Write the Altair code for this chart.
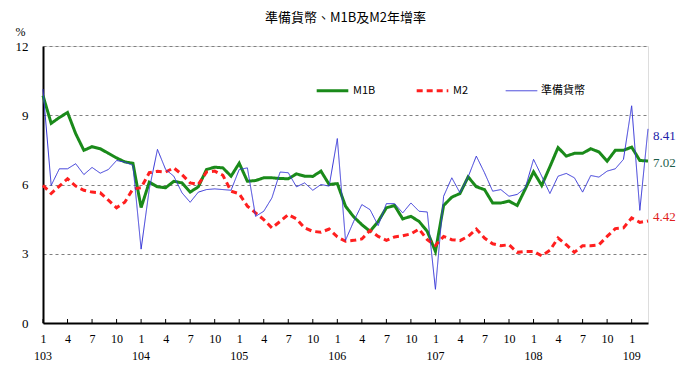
import altair as alt
import pandas as pd

# month index 0 = 103/1 ... 74 = 109/3
months = list(range(75))
series_names = ["M1B", "M2", "準備貨幣"]
m1b = [9.85, 8.65, 8.9, 9.12, 8.2, 7.48, 7.64, 7.55, 7.35, 7.15, 6.98, 6.92,
       5.0, 6.1, 5.9, 5.86, 6.14, 6.07, 5.67, 5.9, 6.65, 6.75, 6.72, 6.36,
       6.92, 6.14, 6.17, 6.29, 6.29, 6.26, 6.25, 6.46, 6.36, 6.35, 6.58, 6.0,
       6.04, 5.06, 4.6, 4.26, 3.97, 4.4, 4.99, 5.09, 4.51, 4.62, 4.4, 3.97,
       3.1, 5.09, 5.45, 5.61, 6.33, 5.9, 5.78, 5.2, 5.2, 5.28, 5.09, 5.81,
       6.55, 5.96, 6.77, 7.6, 7.23, 7.35, 7.35, 7.55, 7.41, 7.01, 7.48, 7.48,
       7.62, 7.04, 7.02]
m2 = [5.96, 5.61, 5.93, 6.25, 5.93, 5.75, 5.67, 5.64, 5.32, 4.99, 5.23, 5.81,
      5.86, 6.51, 6.57, 6.54, 6.72, 6.43, 6.07, 6.0, 6.54, 6.58, 6.4, 5.71,
      5.6, 5.06, 4.77, 4.48, 4.12, 4.4, 4.7, 4.51, 4.12, 3.97, 3.93, 4.07,
      3.73, 3.54, 3.58, 3.64, 4.01, 3.75, 3.58, 3.73, 3.78, 3.86, 4.07, 3.61,
      3.36, 3.75, 3.61, 3.57, 3.75, 4.07, 3.68, 3.43, 3.35, 3.39, 3.06, 3.1,
      3.1, 2.91, 3.15, 3.68, 3.39, 3.06, 3.35, 3.35, 3.39, 3.75, 4.09, 4.12,
      4.55, 4.36, 4.42]
reserve = [10.13, 5.96, 6.68, 6.68, 6.9, 6.43, 6.74, 6.49, 6.65, 7.04, 6.97, 6.83,
           3.2, 5.8, 7.52, 6.65, 6.36, 5.64, 5.23, 5.67, 5.78, 5.81, 5.78, 5.75,
           6.65, 6.72, 4.62, 4.84, 5.42, 6.54, 6.51, 5.9, 6.07, 5.75, 6.0, 5.93,
           7.99, 3.58, 4.4, 5.13, 4.91, 4.22, 5.17, 5.17, 4.77, 5.2, 4.84, 4.81,
           1.46, 5.49, 6.29, 5.64, 6.33, 7.23, 6.51, 5.71, 5.78, 5.49, 5.57, 5.86,
           7.09, 6.36, 5.61, 6.36, 6.48, 6.29, 5.67, 6.39, 6.32, 6.58, 6.68, 7.09,
           9.41, 4.88, 8.41]
year_labels = ["103", "104", "105", "106", "107", "108", "109"]
year_months = [0, 12, 24, 36, 48, 60, 72]
tick_months = list(range(0, 75, 3))
y_ticks = [0, 3, 6, 9, 12]

rows = []
for name, vals in zip(series_names, [m1b, m2, reserve]):
    for i, v in zip(months, vals):
        rows.append({"idx": i, "value": v, "series": name})
df = pd.DataFrame(rows)

end_df = pd.DataFrame({
    "series": series_names,
    "idx": [months[-1]] * 3,
    "value": [m1b[-1], m2[-1], reserve[-1]],
    "label": [f"{m1b[-1]:.2f}", f"{m2[-1]:.2f}", f"{reserve[-1]:.2f}"],
})
year_df = pd.DataFrame({"idx": year_months, "label": year_labels})
tick_df = pd.DataFrame({"idx": tick_months})

W, H = 605, 277
line_colors = ["#1a8a1a", "#ff1f1f", "#3535d8"]
label_colors = {"M1B": "#1d5e4c", "M2": "#e02020", "準備貨幣": "#2020a8"}
label_dy = {"M1B": 2, "M2": -4, "準備貨幣": 7}
SERIF = "Liberation Serif"
CJK = "Noto Sans CJK TC"

xscale = alt.Scale(domain=[0, 74], nice=False, zero=False)
yscale = alt.Scale(domain=[0, 12], nice=False)

x_enc = alt.X("idx:Q", scale=xscale, axis=alt.Axis(
    values=tick_months, title=None, ticks=False,
    labelExpr="'' + (datum.value % 12 + 1)",
    labelFlush=False, labelOverlap=False, labelPadding=10,
    labelFont=SERIF, labelFontSize=12, labelColor="black",
    domainColor="black", domainWidth=2, grid=False))
y_enc = alt.Y("value:Q", scale=yscale, axis=alt.Axis(
    values=y_ticks, ticks=False, labelPadding=15,
    labelFont=SERIF, labelFontSize=13, labelColor="black",
    domainColor="black", domainWidth=2,
    grid=True, gridDash=[3, 3], gridColor="#808080", gridWidth=1,
    title="%", titleAngle=0, titleX=-23, titleY=-15, titleAlign="center",
    titleBaseline="middle", titleFont=SERIF, titleFontSize=12,
    titleFontWeight="normal", titleColor="black"))


def legend():
    return alt.Legend(title=None, orient="none", legendX=272, legendY=27,
                      direction="horizontal", symbolType="stroke",
                      symbolSize=1000, labelFont=CJK, labelFontSize=11,
                      labelColor="black", columnPadding=34, labelOffset=3)


color_enc = alt.Color("series:N", scale=alt.Scale(domain=series_names, range=line_colors),
                      legend=legend())
dash_enc = alt.StrokeDash("series:N", scale=alt.Scale(domain=series_names,
                                                      range=[[1, 0], [6, 4], [1, 0]]),
                          legend=legend())
width_enc = alt.StrokeWidth("series:N", scale=alt.Scale(type="ordinal", domain=series_names,
                                                        range=[3, 3, 1]),
                            legend=legend())

base = alt.Chart(df)
layers = []
for name in series_names:
    layers.append(base.transform_filter(alt.datum.series == name).mark_line().encode(
        x=x_enc, y=y_enc, color=color_enc, strokeDash=dash_enc, strokeWidth=width_enc,
        order="idx:Q"))

ticks = alt.Chart(tick_df).mark_rule(color="black", strokeWidth=1).encode(
    x=x_enc, y=alt.value(H), y2=alt.value(H - 4))
years = alt.Chart(year_df).mark_text(font=SERIF, fontSize=12, color="black",
                                     baseline="middle").encode(
    x=x_enc, y=alt.value(H + 33), text="label:N")

end_layers = []
for name in series_names:
    end_layers.append(alt.Chart(end_df).transform_filter(alt.datum.series == name).mark_text(
        align="left", baseline="middle", dx=5, dy=label_dy[name], font=SERIF, fontSize=13,
        color=label_colors[name]).encode(x=x_enc, y=y_enc, text="label:N"))

chart = alt.layer(*layers, ticks, years, *end_layers).properties(
    width=W, height=H,
    title=alt.TitleParams("準備貨幣、M1B及M2年增率", font=CJK, fontSize=13,
                          fontWeight="normal", anchor="middle", offset=0, color="black"),
    autosize=alt.AutoSizeParams(type="none"),
    padding={"left": 35, "top": 38, "right": 30, "bottom": 40},
).configure_view(stroke="#222222", strokeWidth=1.5).configure_axis(
    labelOverlap=False).configure(background="white")

chart.save("out.html", embed_options={"renderer": "svg", "actions": False})
